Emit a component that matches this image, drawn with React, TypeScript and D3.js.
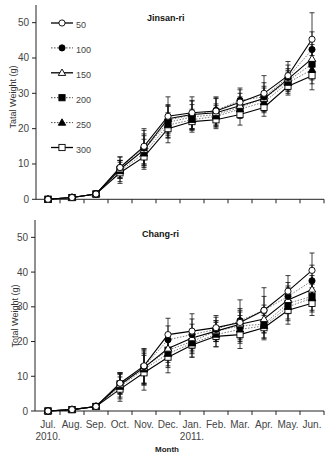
import React from 'react';
import * as d3 from 'd3';

const months = ['Jul.', 'Aug.', 'Sep.', 'Oct.', 'Nov.', 'Dec.', 'Jan.', 'Feb.', 'Mar.', 'Apr.', 'May.', 'Jun.'];
const yearLabels: [string, string][] = [['Jul.', '2010.'], ['Jan.', '2011.']];
const densities = ['50', '100', '150', '200', '250', '300'];
const yTicks = [0, 10, 20, 30, 40, 50];

// mean total weight per density (rows) and month (columns)
const jinsanMeans = [
  [0, 0.5, 1.5, 9, 15, 23.5, 24.5, 25, 27.5, 30, 35, 45.3],
  [0, 0.5, 1.5, 9, 14.5, 22.5, 23.8, 25.2, 28, 29, 34.5, 42.4],
  [0, 0.5, 1.5, 8.5, 14, 22.8, 24, 24.5, 26.5, 28.5, 34, 39.8],
  [0, 0.5, 1.5, 8.5, 14, 21.8, 23.3, 24, 26, 28.5, 33.5, 38.3],
  [0, 0.5, 1.5, 8, 13, 21, 22.5, 23.5, 25.5, 27.5, 33, 36.7],
  [0, 0.5, 1.5, 7.5, 12, 20, 22, 22.5, 24, 26, 32, 35],
];
const jinsanErr = [
  [0, 0.2, 0.3, 3, 5, 5.5, 4.5, 4, 4, 5, 4, 7.5],
  [0, 0.2, 0.3, 3, 5, 4, 4, 3.5, 3, 4, 3.5, 5],
  [0, 0.2, 0.3, 2.5, 4.5, 4, 4, 4, 3.5, 3.5, 3, 4],
  [0, 0.2, 0.3, 2.5, 4, 4.5, 3.5, 3, 3, 3, 3, 4.5],
  [0, 0.2, 0.3, 3, 4, 3.5, 3, 3, 2.5, 3, 3, 4],
  [0, 0.2, 0.3, 3, 3.5, 4, 3, 2.5, 3, 2.5, 2.5, 4],
];

const changMeans = [
  [0, 0.4, 1.3, 8, 13, 22, 23, 24, 25.5, 29, 34.5, 40.5],
  [0, 0.4, 1.3, 8, 12.8, 20.5, 22, 23.5, 26, 29, 33, 37.5],
  [0, 0.4, 1.3, 7.5, 12.5, 18, 21, 23, 25, 26.5, 32, 35],
  [0, 0.4, 1.3, 7.8, 12.5, 17.5, 20, 23, 24.5, 25, 31, 33],
  [0, 0.4, 1.3, 7, 12, 16.5, 19.5, 22, 23.5, 24.5, 30, 32.5],
  [0, 0.4, 1.3, 6.3, 11, 15.5, 19, 21.5, 22, 24, 29, 31],
];
const changErr = [
  [0, 0.2, 0.3, 3, 5, 4.7, 5, 3.5, 4, 4, 4.5, 5],
  [0, 0.2, 0.3, 3, 5, 4, 4.5, 3.5, 6, 6.5, 4, 4.5],
  [0, 0.2, 0.3, 3.5, 4.5, 4, 4, 3, 4, 4, 4, 4],
  [0, 0.2, 0.3, 3, 5, 4.5, 3.5, 3, 4, 4, 4.5, 4],
  [0, 0.2, 0.3, 3.5, 4.5, 4, 4, 3.5, 4, 3.5, 4, 4],
  [0, 0.2, 0.3, 3.5, 5, 4.5, 3.5, 3, 4, 3.5, 4, 3.5],
];

const W = 326;
const H = 454;
const FONT = 'Arial, "Liberation Sans", sans-serif';

type Marker = 'circle' | 'triangle' | 'square';
const markers: { shape: Marker; filled: boolean; dotted: boolean }[] = [
  { shape: 'circle', filled: false, dotted: false },
  { shape: 'circle', filled: true, dotted: true },
  { shape: 'triangle', filled: false, dotted: false },
  { shape: 'square', filled: true, dotted: true },
  { shape: 'triangle', filled: true, dotted: true },
  { shape: 'square', filled: false, dotted: false },
];

const Symbol = ({ x, y, i }: { x: number; y: number; i: number }) => {
  const m = markers[i];
  const fill = m.filled ? '#000' : '#fff';
  if (m.shape === 'circle') {
    return <circle cx={x} cy={y} r={3.1} fill={fill} stroke="#000" strokeWidth={0.9} />;
  }
  if (m.shape === 'square') {
    return <rect x={x - 3.1} y={y - 3.1} width={6.2} height={6.2} fill={fill} stroke="#000" strokeWidth={0.9} />;
  }
  const tri = d3.symbol().type(d3.symbolTriangle).size(24)();
  return <path d={tri || ''} transform={`translate(${x},${y + 0.5})`} fill={fill} stroke="#000" strokeWidth={0.9} />;
};

const xScale = d3.scaleBand<string>().domain(months).range([36, 324]);
const cx = (m: string) => (xScale(m) as number) + xScale.bandwidth() / 2;

interface PanelProps {
  means: number[][];
  errs: number[][];
  y0: number;
  y1: number;
  title: string;
  titleX: number;
  titleY: number;
  yLabel: string;
  yLabelX: number;
  yLabelY: number;
  axisX: number;
  showLegend?: boolean;
  showMonths?: boolean;
}

const Panel = ({ means, errs, y0, y1, title, titleX, titleY, yLabel, yLabelX, yLabelY, axisX, showLegend, showMonths }: PanelProps) => {
  const yScale = d3.scaleLinear().domain([0, 55]).range([y0, y1]);
  const line = d3
    .line<number>()
    .x((d, i) => cx(months[i]))
    .y((d) => yScale(d));
  const order = [5, 4, 3, 2, 1, 0];
  const bounds = [...months.map((m) => xScale(m) as number), xScale.range()[1]];

  return (
    <g>
      {/* axes */}
      <line x1={axisX} x2={axisX} y1={y1} y2={y0} stroke="#222" strokeWidth={1} />
      <line x1={axisX} x2={xScale.range()[1]} y1={y0} y2={y0} stroke="#222" strokeWidth={1} />
      {yTicks.map((t) => (
        <g key={t}>
          <line x1={axisX - 4} x2={axisX} y1={yScale(t)} y2={yScale(t)} stroke="#222" />
          <text x={axisX - 7} y={yScale(t) + 3.5} textAnchor="end" fontSize={10} fill="#444" fontFamily={FONT}>
            {t}
          </text>
        </g>
      ))}
      {bounds.slice(1).map((b, i) => (
        <line key={i} x1={b} x2={b} y1={y0} y2={y0 + 4} stroke="#222" />
      ))}
      <text
        transform={`translate(${yLabelX},${yLabelY}) rotate(-90)`}
        textAnchor="middle"
        fontSize={9}
        fill="#333"
        fontFamily={FONT}
      >
        {yLabel}
      </text>
      <text x={titleX} y={titleY} fontSize={9} fontWeight="bold" fill="#111" fontFamily={FONT}>
        {title}
      </text>

      {/* error bars */}
      {order.map((s) =>
        means[s].map((v, i) => {
          const e = errs[s][i];
          if (e < 0.5) return null;
          const x = cx(months[i]);
          return (
            <g key={`${s}-${i}`} stroke="#111" strokeWidth={0.8}>
              <line x1={x} x2={x} y1={yScale(v - e)} y2={yScale(v + e)} />
              <line x1={x - 2.5} x2={x + 2.5} y1={yScale(v + e)} y2={yScale(v + e)} />
              <line x1={x - 2.5} x2={x + 2.5} y1={yScale(v - e)} y2={yScale(v - e)} />
            </g>
          );
        })
      )}

      {/* series lines */}
      {order.map((s) => (
        <path
          key={s}
          d={line(means[s]) || ''}
          fill="none"
          stroke={markers[s].dotted ? '#555' : '#000'}
          strokeWidth={markers[s].dotted ? 0.8 : 1.1}
          strokeDasharray={markers[s].dotted ? '1.5,1.5' : undefined}
        />
      ))}
      {order.map((s) =>
        means[s].map((v, i) => <Symbol key={`${s}-${i}`} x={cx(months[i])} y={yScale(v)} i={s} />)
      )}

      {showLegend &&
        densities.map((d, i) => {
          const ly = 23 + i * 24.9;
          return (
            <g key={d}>
              <line
                x1={51}
                x2={73}
                y1={ly}
                y2={ly}
                stroke={markers[i].dotted ? '#333' : '#000'}
                strokeWidth={markers[i].dotted ? 0.9 : 1.3}
                strokeDasharray={markers[i].dotted ? '1.5,1.5' : undefined}
              />
              <Symbol x={62} y={ly} i={i} />
              <text x={76} y={ly + 5} fontSize={9} fill="#444" fontFamily={FONT}>
                {d}
              </text>
            </g>
          );
        })}

      {showMonths && (
        <g>
          {months.map((m) => (
            <text key={m} x={cx(m)} y={y0 + 17} textAnchor="middle" fontSize={10} fill="#444" fontFamily={FONT}>
              {m}
            </text>
          ))}
          {yearLabels.map(([m, yr]) => (
            <text key={yr} x={cx(m)} y={y0 + 29} textAnchor="middle" fontSize={10} fill="#444" fontFamily={FONT}>
              {yr}
            </text>
          ))}
        </g>
      )}
    </g>
  );
};

const App = () => (
  <svg width={W} height={H} style={{ position: 'absolute', left: 0, top: 0, background: '#fff' }}>
    <rect width={W} height={H} fill="#fff" />
    <Panel
      means={jinsanMeans}
      errs={jinsanErr}
      y0={199.3}
      y1={5}
      title="Jinsan-ri"
      titleX={147}
      titleY={21}
      yLabel="Tatal Weight (g)"
      yLabelX={16}
      yLabelY={97}
      axisX={36}
      showLegend
    />
    <Panel
      means={changMeans}
      errs={changErr}
      y0={411}
      y1={220}
      title="Chang-ri"
      titleX={142}
      titleY={237}
      yLabel="Total Weight (g)"
      yLabelX={18}
      yLabelY={316}
      axisX={35}
      showMonths
    />
    <text x={167} y={452} textAnchor="middle" fontSize={8} fontWeight="bold" fill="#222" fontFamily={FONT}>
      Month
    </text>
  </svg>
);

export default App;
